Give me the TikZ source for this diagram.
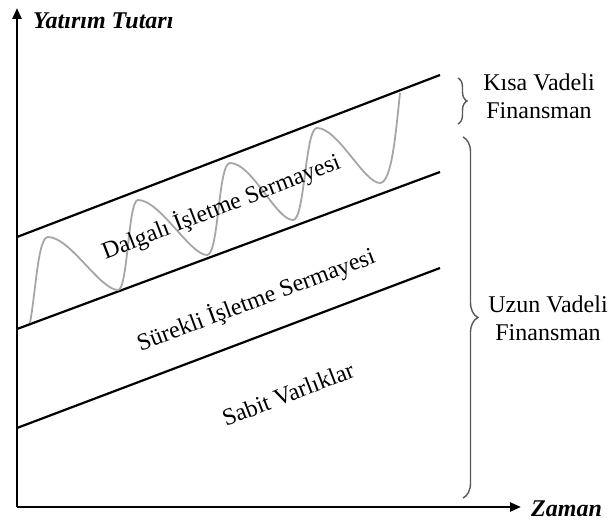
\documentclass[tikz,border=0pt]{standalone}
\usepackage{fontspec}
\setmainfont{Liberation Serif}
\usetikzlibrary{arrows.meta,decorations.pathreplacing}
\begin{document}
\begin{tikzpicture}[x=1pt,y=-1pt,
  axis/.style={line width=2.4pt,-{Triangle[length=11pt,width=9pt]}},
  level/.style={line width=2.2pt},
  wave/.style={line width=1.8pt,color=black!35},
  bracestyle/.style={decorate,line width=1.4pt,color=black!65},
  lbl/.style={font=\fontsize{24}{28}\selectfont,inner sep=0pt},
  axlbl/.style={font=\fontsize{24}{28}\selectfont\itshape\bfseries,inner sep=0pt},
  fin/.style={font=\fontsize{24}{28}\selectfont,align=center,inner sep=0pt}]
\useasboundingbox (0,0) rectangle (614,521);
% axes
\coordinate (O) at (17,507);
\coordinate (ytop) at (17,8);
\coordinate (xend) at (521,507);
\draw[axis] (O) -- (ytop);
\draw[axis] (O) -- (xend);
\node[axlbl,anchor=west] (ylab) at (33,21) {Yatırım Tutarı};
\node[axlbl,anchor=west] (xlab) at (531,509) {Zaman};
% level lines
\coordinate (a1) at (17,237); \coordinate (a2) at (440,75);
\coordinate (b1) at (17,329); \coordinate (b2) at (440,172);
\coordinate (c1) at (17,428); \coordinate (c2) at (440,268);
\draw[level] (a1) -- (a2);
\draw[level] (b1) -- (b2);
\draw[level] (c1) -- (c2);
% wave
\draw[wave] (30,323)
  .. controls (36,290) and (38,237) .. (48,237)
  .. controls (70,237) and (100,290) .. (118,290)
  .. controls (128,290) and (128,200) .. (138,200)
  .. controls (160,200) and (190,255) .. (207,255)
  .. controls (219,255) and (218,163) .. (230,163)
  .. controls (252,163) and (276,220) .. (293,220)
  .. controls (305,220) and (305,128) .. (317,128)
  .. controls (338,128) and (364,183) .. (380,183)
  .. controls (392,183) and (396,130) .. (400,93);
% rotated labels
\node[lbl,rotate=21.2] (dal) at (221,207) {Dalgalı İşletme Sermayesi};
\node[lbl,rotate=20.6] (sur) at (256,300) {Sürekli İşletme Sermayesi};
\node[lbl,rotate=21.2] (sab) at (288,394) {Sabit Varlıklar};
% braces
\coordinate (k1) at (458,78); \coordinate (k2) at (458,124);
\coordinate (u1) at (463,137); \coordinate (u2) at (463,498);
\draw[bracestyle,decoration={brace,amplitude=9pt}] (k1) -- (k2);
\draw[bracestyle,decoration={brace,amplitude=15pt}] (u1) -- (u2);
\node[fin] (kisa) at (539,96) {Kısa Vadeli\\Finansman};
\node[fin] (uzun) at (548,318) {Uzun Vadeli\\Finansman};
\end{tikzpicture}
\end{document}
